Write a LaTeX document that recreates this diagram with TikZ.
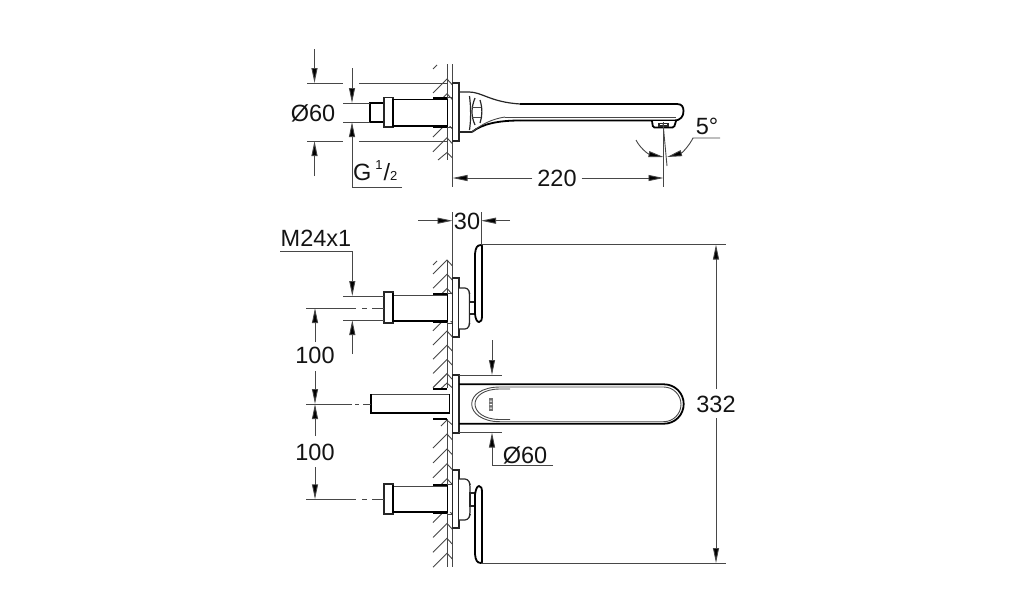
\documentclass[tikz,border=0pt]{standalone}
\usepackage{fontspec}
\setmainfont{Liberation Sans}
\usetikzlibrary{arrows.meta}
\tikzset{
  thin line/.style={line width=0.9pt,draw=black!72},
  thick line/.style={line width=1.8pt,draw=black},
  mid line/.style={line width=1.2pt,draw=black!85},
  wall band/.style={line width=2.8pt,draw=black},
  dimarrow/.style={thin line,-{Triangle[length=15pt,width=6pt,fill=black]}},
  label text/.style={inner sep=0pt,outer sep=0pt,font=\fontsize{23.5}{25}\selectfont,text=black!92},
}
\begin{document}
\begin{tikzpicture}[x=1pt,y=-1pt]
\useasboundingbox (0,0) rectangle (1014,600);
% ---------- top view wall ----------
\draw[thin line] (447,64) -- (447,160);
\draw[thin line] (452.5,64) -- (452.5,187);
\foreach \yy in {79,93.7,108.4,123.1,137.8} {
  \draw[thin line] (433,\yy+14) -- (447,\yy) -- (452.5,\yy+6);
}
\draw[thin line] (438,160) -- (447,152.5) -- (452.5,158);
\draw[thin line] (433,69) -- (437,65);
% connector body
\fill[white] (393,99.5) rectangle (452,126);
\draw[thick line,fill=white] (370,103) rectangle (384,122);
\draw[mid line,fill=white] (384,97.5) rectangle (393,127);
\draw[thick line] (393,99.5) -- (448,99.5);
\draw[thick line] (393,126) -- (448,126);
\draw[thick line] (393,99) -- (393,127);
\draw[wall band] (433,98.5) -- (447,98.5);
\draw[wall band] (433,127) -- (447,127);
\draw[thick line] (447.5,99) -- (447.5,127);
\draw[thin line] (447.5,97) -- (452.5,97) (447.5,127.5) -- (452.5,127.5);
\draw[mid line,fill=white] (452.5,83) rectangle (459,141);
% spout
\draw[mid line] (459,92) -- (469,92) .. controls (482,92) and (490,102) .. (520,104);
\draw[thick line] (520,104) -- (677,104) .. controls (682,104) and (683.5,107) .. (683.5,111)
  .. controls (683.5,116) and (681,120.5) .. (674,120.5) -- (520,120.5);
\draw[thin line] (505,117) -- (676,117);
\draw[thick line] (520,120.5) .. controls (498,120.5) and (482,124) .. (472,132);
\draw[mid line] (459,132) -- (472,132);
\draw[thin line] (505,117) .. controls (492,119) and (482,124) .. (472,132);
% hub detail
\draw[mid line] (469.5,96) .. controls (471,108) and (471,120) .. (469.5,130);
\draw[mid line] (475,98) .. controls (471,108) and (471,116) .. (475,125);
\draw[mid line] (480,100) .. controls (482.5,108) and (482.5,116) .. (480,123);
\draw[thin line] (472,107) -- (481,107) (472,117) -- (481,117);
% nozzle
\draw[thick line,fill=white,rounded corners=1.5pt] (652,121) -- (653,127.5) -- (674,127.5) -- (676,121);
\draw[mid line] (659,123.5) rectangle (668,126);
% top dimensions
\draw[thin line] (307,83) -- (343,83) (359,83) -- (447,83);
\draw[thin line] (307,141) -- (343,141) (359,141) -- (447,141);
\draw[thin line] (343,103) -- (370,103) (343,122) -- (370,122);
\draw[dimarrow] (314.5,49) -- (314.5,83);
\draw[dimarrow] (314.5,176) -- (314.5,141);
\draw[dimarrow] (352,68) -- (352,103);
\draw[dimarrow] (402,187) -- (352,187) -- (352,122);
\node[label text] (d60a) at (313,113) {Ø60};
\node[label text,anchor=base west] (g12) at (353,180) {G\kern4pt\raisebox{10.5pt}{\fontsize{13}{14}\selectfont 1}\kern1pt/\fontsize{13}{14}\selectfont 2};
% 220
\node[label text] (d220) at (557,178) {220};
\draw[dimarrow] (d220.west) ++(-5,0) -- (452.5,178);
\draw[dimarrow] (d220.east) ++(5,0) -- (663.5,178);
% 5 deg
\draw[thin line] (663.5,122) -- (663.5,187);
\draw[thin line] (663,123) -- (667,166);
\draw[thin line,-{Triangle[length=15pt,width=6pt,fill=black]}] (636,140) .. controls (640,148) and (648,154) .. (663.5,157);
\draw[thin line,-{Triangle[length=15pt,width=6pt,fill=black]}] (720,138) -- (693,138) .. controls (689,146) and (682,153) .. (667,157);
\node[label text] (d5) at (707,126) {5°};
% ---------- lower wall ----------
\draw[thin line] (447,260) -- (447,388);
\draw[thin line] (447,419) -- (447,567);
\draw[thin line] (452.5,212) -- (452.5,567);
\foreach \yy in {260,274.2,288.4,302.6,316.8,331,345.2,359.4,373.6} {
  \draw[thin line] (433,\yy+14) -- (447,\yy) -- (452.5,\yy+6);
}
\draw[thin line] (441,388.5) -- (447,383) -- (452.5,388);
\foreach \yy in {434,448.9,463.8,478.7,493.6,508.5,523.4,538.3,553.2} {
  \draw[thin line] (433,\yy+14) -- (447,\yy) -- (452.5,\yy+6);
}
\draw[thin line] (441,426) -- (447,420) -- (452.5,425);
\draw[thin line] (433,265) -- (437,261);
% top valve
\fill[white] (393,295) rectangle (452,321);
\draw[mid line,fill=white] (384,292) rectangle (393,323);
\draw[thin line] (393,295.5) -- (448,295.5);
\draw[thick line] (393,321) -- (448,321);
\draw[thick line] (393,293) -- (393,322);
\draw[wall band] (433,294) -- (447,294);
\draw[wall band] (433,322) -- (447,322);
\draw[thick line] (447.5,294) -- (447.5,322);
\draw[thin line] (447.5,293) -- (452.5,293) (447.5,323) -- (452.5,323);
\draw[mid line,fill=white] (452.5,278) rectangle (459,337);
\draw[mid line,fill=white,rounded corners=3pt] (459,288) -- (468,288) -- (469.5,293) -- (469.5,324) -- (468,329) -- (459,329);
\draw[mid line,fill=white] (469.5,302) rectangle (475,314);
\draw[thick line,fill=white] (481,245) .. controls (477,245) and (475.5,248) .. (475,254)
  -- (475,314) .. controls (475.5,319) and (477,322) .. (479,322) .. controls (481,322) and (482,320) .. (482,316)
  -- (482,248) .. controls (482,246) and (482,245) .. (481,245);
% middle pipe
\fill[white] (371,394) rectangle (452,413);
\draw[thin line] (371,394) -- (450,394);
\draw[thick line] (450,413) -- (371,413) -- (371,394);
\draw[thick line] (449.5,394) -- (449.5,413);
\draw[wall band,line width=2pt] (433,389) -- (447,389);
\draw[wall band,line width=2pt] (433,419) -- (447,419);
\draw[mid line,fill=white] (452.5,375) rectangle (459,433);
% spout plan
\draw[thick line] (459,384.3) -- (664,384.3) .. controls (674.9,384.3) and (683.7,393.1) .. (683.7,404)
  .. controls (683.7,414.9) and (674.9,423.7) .. (664,423.7) -- (459,423.7);
\draw[thin line] (500,387) -- (663.6,387) .. controls (673.2,387) and (681,394.8) .. (681,404.35)
  .. controls (681,413.9) and (673.2,421.7) .. (663.6,421.7) -- (500,421.7)
  .. controls (482,421.7) and (471.7,413) .. (471.7,404) .. controls (471.7,395) and (482,387) .. (500,387);
\draw[thin line] (510,389) -- (500,389) .. controls (484,389) and (475,396) .. (475,404) .. controls (475,412) and (484,419.5) .. (500,419.5) -- (510,419.5);
% logo
\fill[black!55] (488.5,398) rectangle (493,410.5);
\fill[white] (489.5,400.5) rectangle (492,401.5) (489.5,404) rectangle (492,405) (489.5,407.5) rectangle (492,408.5);
% bottom valve
\fill[white] (393,486) rectangle (452,512);
\draw[mid line,fill=white] (384,484) rectangle (393,514);
\draw[thin line] (393,486) -- (448,486);
\draw[thick line] (393,512) -- (448,512);
\draw[thick line] (393,485) -- (393,513);
\draw[wall band] (433,485) -- (447,485);
\draw[wall band] (433,513) -- (447,513);
\draw[thick line] (447.5,485) -- (447.5,513);
\draw[thin line] (447.5,484) -- (452.5,484) (447.5,514) -- (452.5,514);
\draw[mid line,fill=white] (452.5,470) rectangle (459,528);
\draw[mid line,fill=white,rounded corners=3pt] (459,479) -- (468,479) -- (470,484) -- (470,515) -- (468,520) -- (459,520);
\draw[mid line,fill=white] (470,493) rectangle (475,506);
\draw[thick line,fill=white] (481,563) .. controls (477,563) and (475.5,560) .. (475,554)
  -- (475,495) .. controls (475.5,490) and (477,486) .. (479,486) .. controls (481,486) and (482,488) .. (482,492)
  -- (482,560) .. controls (482,562) and (482,563) .. (481,563);
% lower dimensions
\node[label text] (d30) at (467,221) {30};
\draw[thin line] (481,212) -- (481,245);
\draw[dimarrow] (418,220.7) -- (452.5,220.7);
\draw[dimarrow] (510,220.7) -- (481,220.7);
\draw[thin line] (481,244.5) -- (726,244.5);
\draw[thin line] (481,563) -- (726,563);
\node[label text] (d332) at (716,404) {332};
\draw[dimarrow] (716,389) -- (716,244.5);
\draw[dimarrow] (716,418) -- (716,563);
\node[label text] (m24) at (316,238) {M24x1};
\draw[dimarrow] (280,251) -- (352.3,251) -- (352.3,296);
\draw[thin line] (343,296) -- (384,296);
\draw[thin line] (343,320) -- (384,320);
\draw[dimarrow] (352.3,354) -- (352.3,320);
\draw[thin line] (306,308) -- (356,308) (362,308) -- (367,308) (372,308) -- (384,308);
\node[label text] (h1) at (315,355) {100};
\draw[dimarrow] (315,342) -- (315,308);
\draw[dimarrow] (315,371) -- (315,404);
\draw[thin line] (306,404) -- (352,404) (355,404) -- (359,404) (363,404) -- (371,404);
\draw[dimarrow] (315,436) -- (315,404);
\node[label text] (h2) at (315,452.5) {100};
\draw[dimarrow] (315,467) -- (315,499.3);
\draw[thin line] (306,499.3) -- (356,499.3) (362,499.3) -- (367,499.3) (372,499.3) -- (384,499.3);
% spout plan dim
\draw[thin line] (459,375) -- (502,375) (459,432.5) -- (502,432.5);
\draw[dimarrow] (492,340) -- (492,375);
\draw[dimarrow] (553,465.5) -- (492,465.5) -- (492,432.5);
\node[label text] (d60b) at (525,455) {Ø60};
\end{tikzpicture}
\end{document}
